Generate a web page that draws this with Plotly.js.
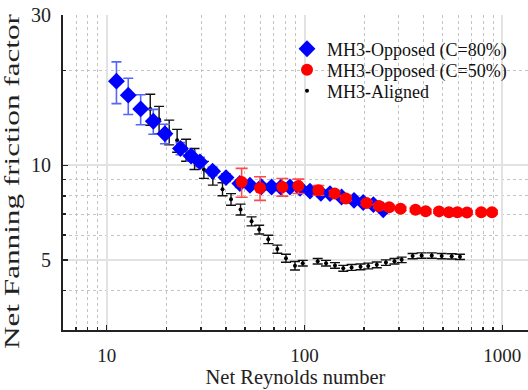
<!DOCTYPE html>
<html>
<head>
<meta charset="utf-8">
<script src="https://cdn.plot.ly/plotly-3.0.1.min.js"></script>
<style>html,body{margin:0;padding:0;background:#fff;}#chart{width:528px;height:390px;}</style>
</head>
<body>
<div id="chart"></div>
<script>
// MH3-Opposed (C=80%)
const blueRe  = [11.2, 12.85, 14.85, 17.2, 19.7, 23.6, 26.7, 29.6, 34.3, 40.1, 47.1, 53.0, 60.5, 68.2, 76.0, 84.4, 95.0, 106.6, 121, 134.6, 154, 178, 198, 223, 250];
const blueF   = [18.5, 16.7, 15.1, 13.8, 12.6, 11.3, 10.7, 10.25, 9.57, 9.14, 8.75, 8.64, 8.55, 8.53, 8.52, 8.53, 8.45, 8.28, 8.15, 8.13, 7.93, 7.74, 7.62, 7.5, 7.22];
const blueErr = [2.8, 2.2, 1.65, 1.25, 0.9, 0.5, 0.4, 0.35, 0.3, 0.25, 0.25, 0.2, 0.2, 0.2, 0.2, 0.2, 0.2, 0.18, 0.18, 0.15, 0.15, 0.15, 0.15, 0.15, 0.15];

// MH3-Opposed (C=50%)
const redRe  = [48.1, 59.6, 77.3, 93.1, 117.5, 142, 162, 206, 238, 268, 306, 364, 410, 479, 537, 593, 663, 783, 887];
const redF   = [8.85, 8.47, 8.53, 8.59, 8.33, 8.14, 7.85, 7.59, 7.43, 7.36, 7.28, 7.22, 7.15, 7.14, 7.10, 7.10, 7.08, 7.10, 7.10];
const redErr = [0.93, 0.73, 0.55, 0.45, 0.3, 0.15, 0.12, 0.1, 0.1, 0.1, 0.1, 0.1, 0.1, 0.1, 0.1, 0.1, 0.1, 0.1, 0.1];

// MH3-Aligned
const blackRe  = [16.6, 18.4, 20.7, 22.7, 25.2, 27.8, 31.0, 34.4, 38.5, 42.5, 47.5, 54.0, 59.0, 65.6, 72.9, 80.6, 89.5, 98, 116.6, 128.5, 142.6, 157, 173, 192, 210, 232, 258, 285, 310, 352, 391, 440, 494, 555, 611];
const blackF   = [15.1, 13.98, 12.76, 12.0, 11.2, 10.5, 9.69, 9.15, 8.4, 7.8, 7.24, 6.64, 6.25, 5.82, 5.42, 5.07, 4.8, 4.89, 4.96, 4.89, 4.81, 4.71, 4.74, 4.76, 4.79, 4.83, 4.91, 4.96, 5.01, 5.15, 5.17, 5.17, 5.15, 5.14, 5.12];
const blackErr = [1.7, 1.4, 1.15, 1.0, 0.9, 0.8, 0.6, 0.5, 0.4, 0.33, 0.29, 0.22, 0.2, 0.18, 0.16, 0.15, 0.15, 0.1, 0.1, 0.1, 0.1, 0.1, 0.1, 0.1, 0.1, 0.1, 0.1, 0.1, 0.1, 0.1, 0.1, 0.1, 0.1, 0.1, 0.1];

const names = ['MH3-Opposed (C=80%)', 'MH3-Opposed (C=50%)', 'MH3-Aligned'];
const xMajor = [10, 100, 1000];
const xMinor = [7, 8, 9, 20, 30, 40, 50, 60, 70, 80, 90, 200, 300, 400, 500, 600, 700, 800, 900];
const yMajor = [5, 10, 30];
const yMinor = [4, 6, 7, 8, 9, 20];

const FONT = 'Liberation Serif';

const traces = [
  {
    x: blackRe, y: blackF, name: names[2], type: 'scatter', mode: 'markers', legend: 'legend3',
    marker: {symbol: 'circle', size: 4, color: '#000'},
    error_y: {type: 'data', array: blackErr, visible: true, color: '#111', thickness: 1.4, width: 5}
  },
  {
    x: blueRe, y: blueF, name: names[0], type: 'scatter', mode: 'markers', legend: 'legend',
    marker: {symbol: 'diamond', size: 13, color: '#0000ff'},
    error_y: {type: 'data', array: blueErr, visible: true, color: '#5566ff', thickness: 1.6, width: 5}
  },
  {
    x: redRe, y: redF, name: names[1], type: 'scatter', mode: 'markers', legend: 'legend2',
    marker: {symbol: 'circle', size: 12, color: '#ff0000'},
    error_y: {type: 'data', array: redErr, visible: true, color: '#ff4a4a', thickness: 1.6, width: 6}
  }
];

function leg(yPix) {
  return {
    x: (287 - 63) / 465, y: 1 - (yPix - 15) / 315, xanchor: 'left', yanchor: 'middle',
    bgcolor: 'rgba(0,0,0,0)', borderwidth: 0,
    font: {family: FONT, size: 18, color: '#111'}
  };
}

const layout = {
  width: 528, height: 390,
  margin: {l: 63, r: 0, t: 15, b: 60},
  paper_bgcolor: '#fff', plot_bgcolor: '#fff',
  font: {family: FONT, color: '#222'},
  showlegend: true,
  legend: leg(49), legend2: leg(70), legend3: leg(91),
  shapes: [{
    type: 'rect', xref: 'paper', yref: 'paper', layer: 'between',
    x0: (284 - 63) / 465, x1: (512 - 63) / 465, y0: 1 - (103 - 15) / 315, y1: 1 - (31 - 15) / 315,
    fillcolor: '#fff', line: {width: 0}
  }],
  xaxis: {
    type: 'log', range: [0.779, 3.13],
    tickmode: 'array', tickvals: xMajor, ticktext: xMajor.map(String),
    ticks: 'inside', ticklen: 5, tickwidth: 1.5, tickcolor: '#222',
    showline: true, linecolor: '#222', linewidth: 2, mirror: false,
    showgrid: true, gridcolor: '#e2e2e2', gridwidth: 2, zeroline: false,
    minor: {tickmode: 'array', tickvals: xMinor, ticks: 'inside', ticklen: 3, tickcolor: '#222',
            showgrid: true, gridcolor: '#c4c4c4', griddash: 'dot', gridwidth: 1},
    tickfont: {family: FONT, size: 19, color: '#222'},
    ticklabelstandoff: 7,
    title: {text: 'Net Reynolds number', font: {family: FONT, size: 20.5, color: '#222'}, standoff: 4}
  },
  yaxis: {
    type: 'log', range: [Math.log10(3), Math.log10(30)],
    tickmode: 'array', tickvals: yMajor, ticktext: yMajor.map(String),
    ticks: 'inside', ticklen: 5, tickwidth: 1.5, tickcolor: '#222',
    showline: true, linecolor: '#222', linewidth: 2, mirror: false,
    showgrid: true, gridcolor: '#e2e2e2', gridwidth: 2, zeroline: false,
    minor: {tickmode: 'array', tickvals: yMinor, ticks: 'inside', ticklen: 3, tickcolor: '#222',
            showgrid: true, gridcolor: '#c4c4c4', griddash: 'dot', gridwidth: 1},
    tickfont: {family: FONT, size: 20, color: '#222'},
    ticklabelstandoff: 6,
    title: {text: 'Net Fanning friction factor', font: {family: FONT, size: 21, color: '#222'}, standoff: 9}
  }
};

Plotly.newPlot('chart', traces, layout, {displayModeBar: false, staticPlot: true}).then(function () {
  const t = document.querySelector('.ytitle');
  if (t) {
    t.setAttribute('textLength', '335');
    t.setAttribute('lengthAdjust', 'spacingAndGlyphs');
    const tr = t.getAttribute('transform') || '';
    t.setAttribute('transform', tr + ' translate(-9,0)');
  }
});
</script>
</body>
</html>
